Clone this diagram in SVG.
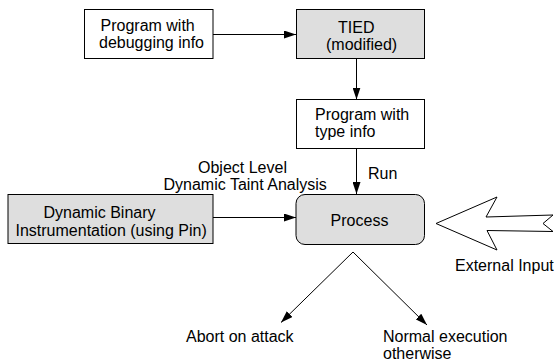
<svg xmlns="http://www.w3.org/2000/svg" width="554" height="362" viewBox="0 0 554 362">
<defs>
<style>
text{font-family:"Liberation Sans",Arial,sans-serif;font-size:16px;fill:#000}
.box{stroke:#000;stroke-width:1;fill:#fff}
.gray{fill:#dedede}
.edge{stroke:#000;stroke-width:1;fill:none}
</style>
<marker id="ah" viewBox="0 0 12 8" refX="12" refY="4" markerWidth="12" markerHeight="8" markerUnits="userSpaceOnUse" orient="auto">
<path d="M0,0 L12,4 L0,8 Z" fill="#000"/>
</marker>
</defs>
<rect width="554" height="362" fill="#fff"/>
<g id="connectors">
<line class="edge" x1="213" y1="34.5" x2="296" y2="34.5" marker-end="url(#ah)"/>
<line class="edge" x1="356.5" y1="58.5" x2="356.5" y2="99.5" marker-end="url(#ah)"/>
<line class="edge" x1="356.5" y1="149" x2="356.5" y2="194" marker-end="url(#ah)"/>
<line class="edge" x1="213" y1="217.5" x2="296" y2="217.5" marker-end="url(#ah)"/>
<line class="edge" x1="353" y1="252" x2="281" y2="322.5" marker-end="url(#ah)"/>
<line class="edge" x1="353" y1="252" x2="427" y2="325" marker-end="url(#ah)"/>
<text x="198" y="173">Object Level</text>
<text x="163.5" y="190">Dynamic Taint Analysis</text>
<text x="368" y="179">Run</text>
</g>
<g id="n_debug">
<rect class="box" x="84.5" y="9.5" width="128.5" height="49"/>
<text x="100.5" y="30.5">Program with</text>
<text x="99" y="47.5">debugging info</text>
</g>
<g id="n_tied">
<rect class="box gray" x="296.5" y="9.5" width="128" height="49"/>
<text x="338" y="33">TIED</text>
<text x="326" y="50">(modified)</text>
</g>
<g id="n_type">
<rect class="box" x="296.5" y="99.5" width="128" height="49"/>
<text x="315" y="120">Program with</text>
<text x="315" y="136.5">type info</text>
</g>
<g id="n_dbi">
<rect class="box gray" x="8" y="194.5" width="205" height="49"/>
<text x="43.5" y="217.5">Dynamic Binary</text>
<text x="15.5" y="235.5">Instrumentation (using Pin)</text>
</g>
<g id="n_process">
<rect class="box gray" x="296" y="194.5" width="128.5" height="50" rx="9" ry="9"/>
<text x="359.5" y="225.5" text-anchor="middle">Process</text>
</g>
<g id="n_input">
<path class="box" d="M436,223.5 L497,197 L486,217 L553,215 L543,223.5 L553,231.5 L487,230.5 L497,250 Z" stroke-linejoin="miter"/>
<text x="455" y="270.5">External Input</text>
</g>
<g id="n_abort">
<text x="186" y="341.5">Abort on attack</text>
</g>
<g id="n_normal">
<text x="383" y="341.5">Normal execution</text>
<text x="383" y="358.5">otherwise</text>
</g>
</svg>
